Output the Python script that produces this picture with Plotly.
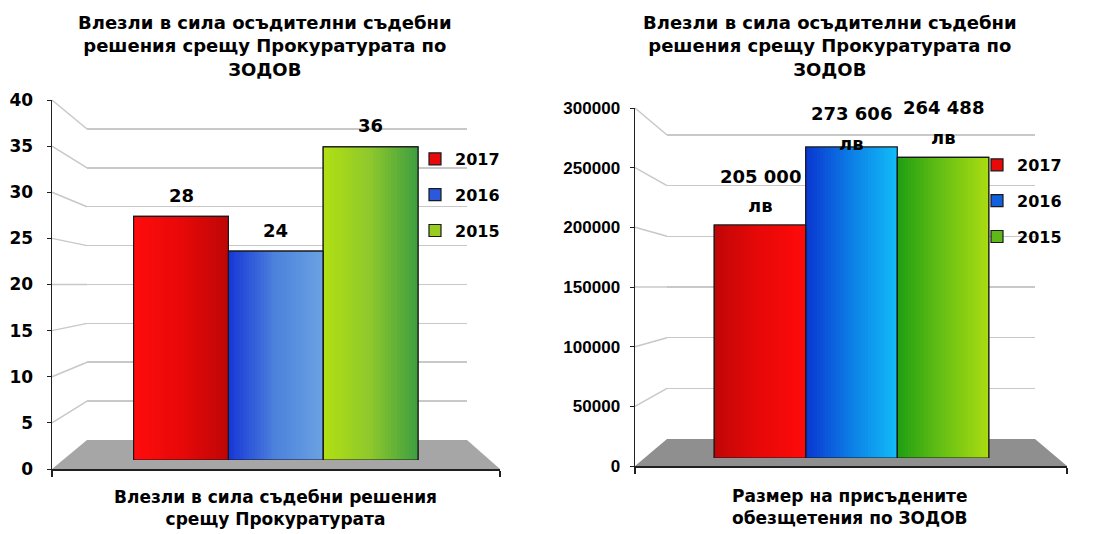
import plotly.graph_objects as go

# ---------------- data ----------------
series = ["2017", "2016", "2015"]
left_values = [28, 24, 36]
right_values = [205000, 273606, 264488]
left_title = "Влезли в сила осъдителни съдебни<br>решения срещу Прокуратурата по<br>ЗОДОВ"
right_title = "Влезли в сила осъдителни съдебни<br>решения срещу Прокуратурата по<br>ЗОДОВ"
left_category = "Влезли в сила съдебни решения<br>срещу Прокуратурата"
right_category = "Размер на присъдените<br>обезщетения по ЗОДОВ"
currency = "лв"

# ---------------- style ----------------
W, H = 1094, 534
BOLD = "DejaVu Sans"
GRID = "#c8c8c8"
AXIS = "#202020"
EDGE = "#1a1a1a"

left_grad = [["#ff0c0c", "#e80808", "#bf0606"],
             ["#1636d6", "#4d82dc", "#6aa2e2"],
             ["#b2e012", "#8ec82c", "#3e9e40"]]
right_grad = [["#c00606", "#e80808", "#ff0a0a"],
              ["#0a36d0", "#0c7ee6", "#12bcf8"],
              ["#1e9e12", "#68c014", "#aadc12"]]
left_swatch = ["#e80a0a", "#2c58dc", "#98cc20"]
right_swatch = ["#e80a0a", "#1060e0", "#60b818"]

P_LEFT = dict(front_x=52, end_x=500, front_y0=469, front_y1=100,
              wall_x0=87, wall_x1=467, wall_y0=440, wall_y1=129,
              bar_y0=460, bar_y1=112, c0=181, unit=94.8,
              ymax=40, dtick=5, floor="#a6a6a6",
              tickfont=dict(family=BOLD, size=17, color="black", weight="bold"), standoff=10)
P_RIGHT = dict(front_x=635, end_x=1067, front_y0=466, front_y1=108,
               wall_x0=667, wall_x1=1035, wall_y0=439, wall_y1=135,
               bar_y0=458, bar_y1=117, c0=760, unit=91.5,
               ymax=300000, dtick=50000, floor="#8f8f8f",
               tickfont=dict(family="Liberation Sans", size=17, color="black", weight="bold"), standoff=6)


def fx(p):
    return p / W


def fy(p):
    return 1 - p / H


def hex2rgb(h):
    h = h.lstrip("#")
    return [int(h[i:i + 2], 16) for i in (0, 2, 4)]


def grad_color(stops, t):
    n = len(stops) - 1
    seg = min(int(t * n), n - 1)
    lt = t * n - seg
    a, b = hex2rgb(stops[seg]), hex2rgb(stops[seg + 1])
    c = [round(a[i] + (b[i] - a[i]) * lt) for i in range(3)]
    return "rgb(%d,%d,%d)" % tuple(c)


fig = go.Figure()
NSL = 32

# axis ids per panel: wall (drawn first), front frame, bars (drawn last)
IDS_LEFT = dict(xw="x", yw="y", xf="x2", yf="y2", xb="x3", yb="y3")
IDS_RIGHT = dict(xw="x4", yw="y4", xf="x5", yf="y5", xb="x6", yb="y6")


def add_frame(I):
    # empty traces so the wall / front-frame subplots are created
    fig.add_trace(go.Scatter(x=[None], y=[None], xaxis=I["xw"], yaxis=I["yw"],
                             mode="markers", showlegend=False, hoverinfo="skip"))
    fig.add_trace(go.Scatter(x=[None], y=[None], xaxis=I["xf"], yaxis=I["yf"],
                             mode="markers", showlegend=False, hoverinfo="skip"))


def add_panel(values, grads, swatches, xb, yb, legend_name):
    for i, (name, v) in enumerate(zip(series, values)):
        fig.add_trace(go.Bar(x=[i], y=[v], width=1.0, name=name,
                             marker=dict(color=swatches[i], line=dict(color=EDGE, width=1.2)),
                             xaxis=xb, yaxis=yb, legendgroup=legend_name + name,
                             legend=legend_name, showlegend=True, hoverinfo="skip"))
    for i, v in enumerate(values):
        xs = [i - 0.5 + (k + 0.5) / NSL for k in range(NSL)]
        cols = [grad_color(grads[i], (k + 0.5) / NSL) for k in range(NSL)]
        fig.add_trace(go.Bar(x=xs, y=[v] * NSL, width=1.25 / NSL,
                             marker=dict(color=cols, line=dict(width=0)),
                             xaxis=xb, yaxis=yb, showlegend=False, hoverinfo="skip"))
    for i, v in enumerate(values):
        fig.add_trace(go.Bar(x=[i], y=[v], width=1.0,
                             marker=dict(color="rgba(0,0,0,0)", line=dict(color=EDGE, width=1.2)),
                             xaxis=xb, yaxis=yb, showlegend=False, hoverinfo="skip"))


add_frame(IDS_LEFT)
add_frame(IDS_RIGHT)
add_panel(left_values, left_grad, left_swatch, IDS_LEFT["xb"], IDS_LEFT["yb"], "legend")
add_panel(right_values, right_grad, right_swatch, IDS_RIGHT["xb"], IDS_RIGHT["yb"], "legend2")

layout = dict(width=W, height=H, margin=dict(l=0, r=0, t=0, b=0, autoexpand=False),
              paper_bgcolor="white", plot_bgcolor="rgba(0,0,0,0)",
              barmode="overlay", bargap=0, showlegend=True)


def key(a):
    return ("xaxis" if a[0] == "x" else "yaxis") + a[1:]


EXT = 0.004  # small headroom so the top wall gridline is drawn


def axes_for(P, I):
    lo = -(P["c0"] - P["front_x"]) / P["unit"]
    hi = (P["end_x"] - P["c0"]) / P["unit"]
    wall_top = P["wall_y0"] - (P["wall_y0"] - P["wall_y1"]) * (1 + EXT)
    d = {}
    hidden = dict(visible=False, showgrid=False, zeroline=False, fixedrange=True, automargin=False)
    d[key(I["xw"])] = dict(domain=[fx(P["wall_x0"]), fx(P["wall_x1"])], range=[0, 1],
                           anchor=I["yw"], showgrid=False, zeroline=False, showline=False,
                           showticklabels=False, ticks="", fixedrange=True, automargin=False)
    d[key(I["yw"])] = dict(domain=[fy(P["wall_y0"]), fy(wall_top)],
                           range=[0, P["ymax"] * (1 + EXT)],
                           anchor=I["xw"], showgrid=True, gridcolor=GRID,
                           gridwidth=1.5, zeroline=False, showticklabels=False, ticks="",
                           showline=False, dtick=P["dtick"], tick0=0, fixedrange=True,
                           automargin=False)
    d[key(I["xf"])] = dict(domain=[fx(P["front_x"]), fx(P["end_x"])], range=[0, 1],
                           anchor=I["yf"], showline=True, linecolor=AXIS, linewidth=1.5,
                           ticks="outside", ticklen=6, tickcolor=AXIS, tickwidth=1.2,
                           tickvals=[0, 1], showticklabels=False, showgrid=False,
                           zeroline=False, fixedrange=True, automargin=False)
    d[key(I["yf"])] = dict(domain=[fy(P["front_y0"]), fy(P["front_y1"])], range=[0, P["ymax"]],
                           anchor=I["xf"], showline=True, linecolor=AXIS, linewidth=1.5,
                           ticks="outside", ticklen=4, tickcolor=AXIS, dtick=P["dtick"],
                           tick0=0, showgrid=False, zeroline=False,
                           ticklabelstandoff=P["standoff"], tickformat="d",
                           tickfont=P["tickfont"], fixedrange=True, automargin=False)
    d[key(I["xb"])] = dict(domain=[fx(P["front_x"]), fx(P["end_x"])], range=[lo, hi],
                           anchor=I["yb"], **hidden)
    d[key(I["yb"])] = dict(domain=[fy(P["bar_y0"]), fy(P["bar_y1"])], range=[0, P["ymax"]],
                           anchor=I["xb"], **hidden)
    return d


layout.update(axes_for(P_LEFT, IDS_LEFT))
layout.update(axes_for(P_RIGHT, IDS_RIGHT))

# decorations: floors and perspective connectors
shapes = []
for P in (P_LEFT, P_RIGHT):
    path = "M %f %f L %f %f L %f %f L %f %f Z" % (
        fx(P["front_x"]), fy(P["front_y0"]), fx(P["wall_x0"]), fy(P["wall_y0"]),
        fx(P["wall_x1"]), fy(P["wall_y0"]), fx(P["end_x"]), fy(P["front_y0"]))
    shapes.append(dict(type="path", path=path, xref="paper", yref="paper",
                       fillcolor=P["floor"], line=dict(width=0), layer="below"))
    n = int(round(P["ymax"] / P["dtick"]))
    for k in range(1, n + 1):
        t = k / n
        y_front = P["front_y0"] - t * (P["front_y0"] - P["front_y1"])
        y_wall = P["wall_y0"] - t * (P["wall_y0"] - P["wall_y1"])
        shapes.append(dict(type="line", xref="paper", yref="paper",
                           x0=fx(P["front_x"]), y0=fy(y_front), x1=fx(P["wall_x0"]), y1=fy(y_wall),
                           line=dict(color=GRID, width=1.5), layer="below"))
layout["shapes"] = shapes

# annotations
ann = []
tfont = dict(family=BOLD, size=18, color="black", weight="bold")
cfont = dict(family=BOLD, size=17, color="black", weight="bold")
ann.append(dict(text=left_title, x=fx(265), y=fy(46), xref="paper", yref="paper",
                showarrow=False, font=tfont, xanchor="center", yanchor="middle"))
ann.append(dict(text=right_title, x=fx(830), y=fy(46), xref="paper", yref="paper",
                showarrow=False, font=tfont, xanchor="center", yanchor="middle"))
ann.append(dict(text=left_category, x=fx(275), y=fy(508), xref="paper", yref="paper",
                showarrow=False, font=cfont, xanchor="center", yanchor="middle"))
ann.append(dict(text=right_category, x=fx(850), y=fy(507), xref="paper", yref="paper",
                showarrow=False, font=cfont, xanchor="center", yanchor="middle"))
lfont = dict(family=BOLD, size=18, color="black", weight="bold")
xb, yb = IDS_LEFT["xb"], IDS_LEFT["yb"]
for i, v in enumerate(left_values):
    ann.append(dict(text=str(v), x=i, y=v, xref=xb, yref=yb, showarrow=False,
                    font=lfont, yanchor="middle", yshift=21))
right_shift = [(48, 19), (34, 4), (50, 20)]
xb, yb = IDS_RIGHT["xb"], IDS_RIGHT["yb"]
for i, v in enumerate(right_values):
    s1, s2 = right_shift[i]
    ann.append(dict(text=f"{v:,}".replace(",", " "), x=i, y=v, xref=xb, yref=yb,
                    showarrow=False, font=lfont, yanchor="middle", yshift=s1))
    ann.append(dict(text=currency, x=i, y=v, xref=xb, yref=yb,
                    showarrow=False, font=lfont, yanchor="middle", yshift=s2))
layout["annotations"] = ann

legfont = dict(family=BOLD, size=16, color="black", weight="bold")
layout["legend"] = dict(x=fx(415), y=fy(142), xanchor="left", yanchor="top",
                        font=legfont, tracegroupgap=12, bgcolor="rgba(0,0,0,0)",
                        itemclick=False, itemdoubleclick=False)
layout["legend2"] = dict(x=fx(977), y=fy(148), xanchor="left", yanchor="top",
                         font=legfont, tracegroupgap=12, bgcolor="rgba(0,0,0,0)",
                         itemclick=False, itemdoubleclick=False)

fig.update_layout(**layout)
fig.write_html("out.html", config=dict(displayModeBar=False, staticPlot=True),
               post_script="document.body.style.margin='0';document.body.style.overflow='hidden';")
